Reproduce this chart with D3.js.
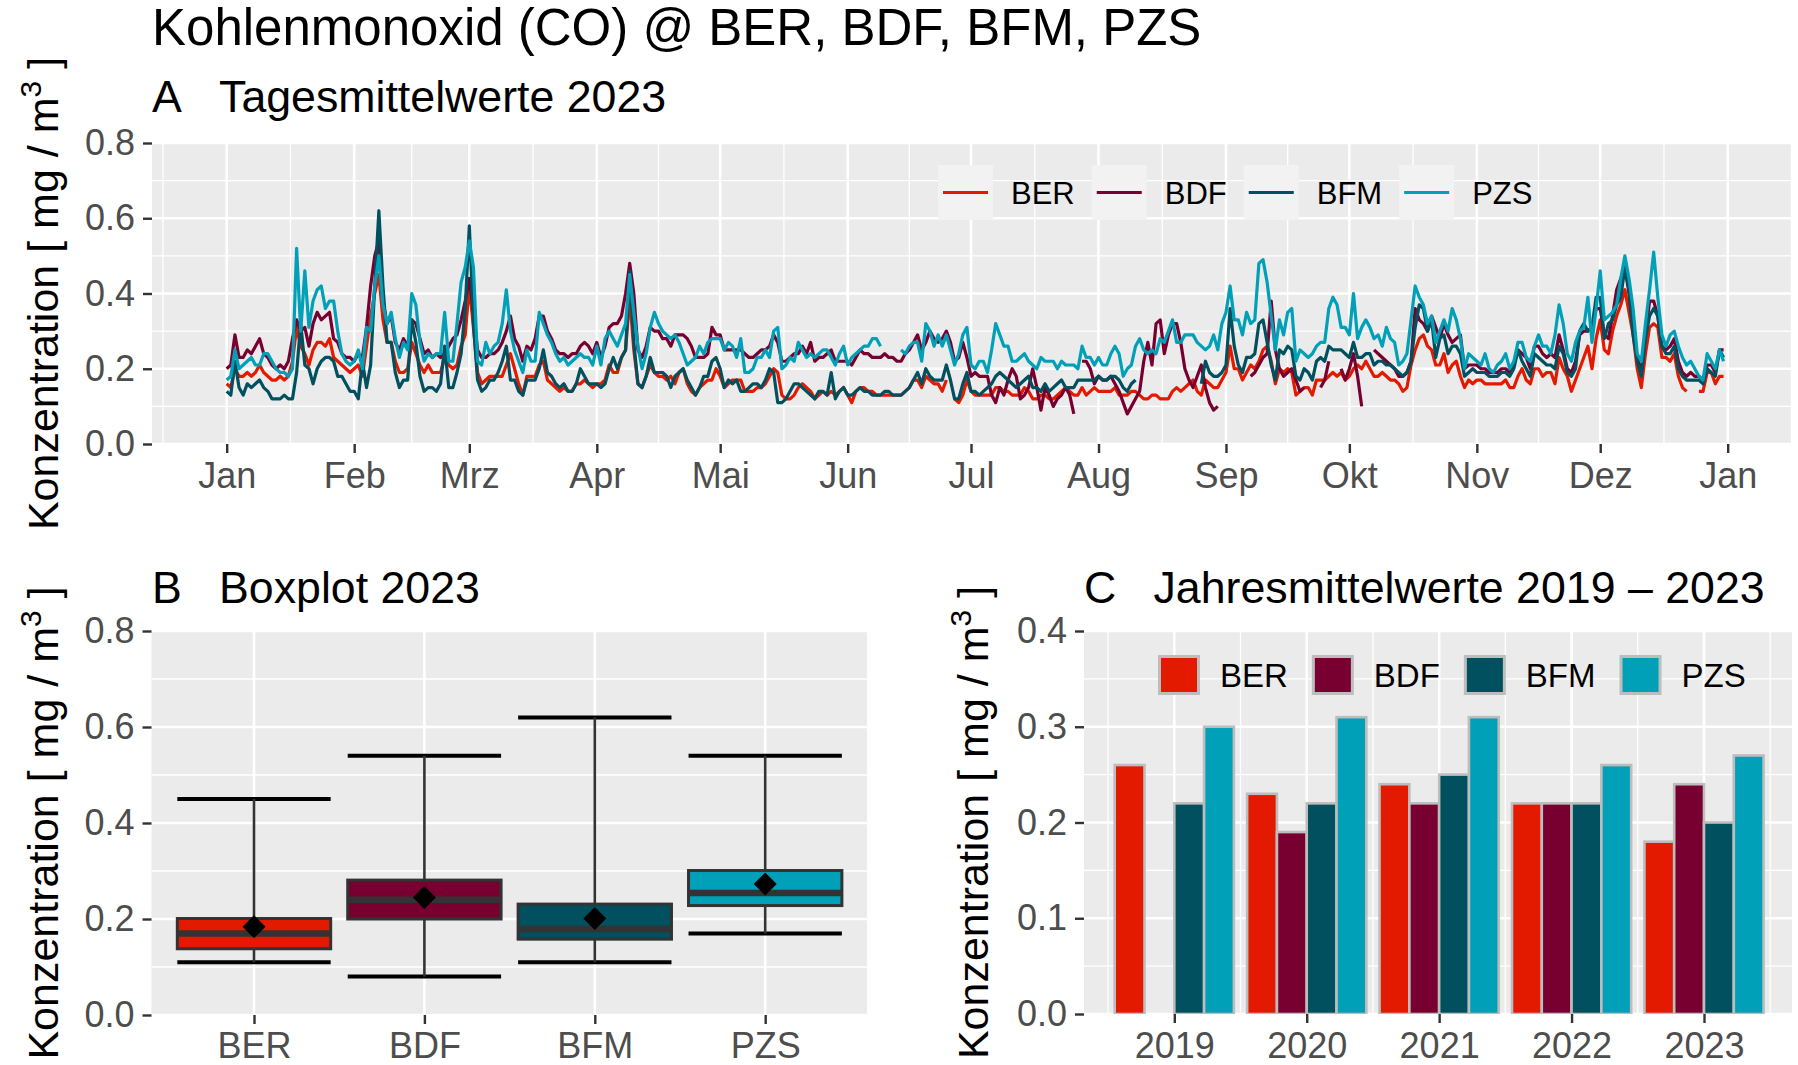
<!DOCTYPE html>
<html><head><meta charset="utf-8">
<script src="https://cdn.jsdelivr.net/npm/d3@7"></script>
<style>
body{margin:0;background:#fff;}
svg{display:block;}
text{font-family:"Liberation Sans",Arial,Helvetica,sans-serif;}
</style>
</head><body>
<svg id="chart" width="1798" height="1065"></svg>
<script>
// ---------------- DATA ----------------
const stations = ["BER","BDF","BFM","PZS"];
const stationColors = ["#E41A00","#780030","#00505F","#00A0B8"];
const monthLabels = ["Jan","Feb","Mrz","Apr","Mai","Jun","Jul","Aug","Sep","Okt","Nov","Dez","Jan"];
const yTicksTop = [0,0.2,0.4,0.6,0.8];
const yTicksBox = [0,0.2,0.4,0.6,0.8];
const yTicksBar = [0,0.1,0.2,0.3,0.4];

// daily means 2023 (index 0 = 1 Jan), null = missing
const dailyBER = [
.16,.15,.20,.18,.18,.19,.18,.19,.21,.19,
.18,.17,.17,.18,.17,.18,.22,.31,.26,.24,
.21,.25,.27,.27,.26,.28,.23,.22,.21,.20,
.19,.20,.21,.18,.26,.34,.40,.45,.33,.27,
.27,.22,.19,.19,.20,.27,.24,.21,.19,.21,
.19,.19,.19,.23,.21,.20,.21,.26,.29,.42,
.31,.19,.16,.17,.18,.18,.18,.18,.21,.24,
.20,.16,.13,.18,.18,.18,.21,.22,.17,.16,
.15,.14,.15,.14,.14,.16,.16,.17,.16,.15,
.16,.16,.17,.21,.19,.19,.23,.25,.39,.25,
.16,.15,.18,.21,.19,.18,.18,.17,.18,.16,
.19,.20,.16,.14,.13,.15,.16,.17,.17,.20,
.18,.15,.16,.17,.17,.17,.14,.14,.14,.15,
.15,.16,.18,.20,.19,.13,.12,.12,.13,.15,
.16,.15,.14,.12,.13,.14,.13,.14,.13,.14,
.15,.13,.11,.14,.15,.15,.14,.14,.13,.13,
.13,.13,.13,.13,.13,.14,.15,.17,.17,.15,
.18,.17,.16,.16,.14,.17,null,.12,.11,.13,
.17,.14,.13,.13,.13,.13,.13,.15,.15,.14,
.14,.13,.13,.13,.15,.14,.12,.12,.13,.13,
.12,.12,.13,.14,.15,.14,.13,.13,.15,.13,
.14,.15,.14,.14,.14,.14,.15,.13,.13,.13,
.14,.14,.13,.12,.12,.13,.13,.12,.12,.12,
.14,.15,.14,.15,.16,.17,.14,.13,.17,.16,
.15,.15,.17,.19,.26,.20,.20,.17,.19,.21,
.20,.22,.25,.26,.22,.16,.20,.19,.20,.19,
.13,.14,.15,.15,.13,.17,.17,.17,.18,.19,
.18,.19,.17,.18,.20,.21,.20,.22,.20,.18,
.18,.19,.18,.17,.17,.16,.14,.15,.21,.25,
.28,.29,.26,.25,.21,.21,.24,.19,.21,.22,
.18,.15,.17,.16,.17,.17,.16,.16,.16,.16,
.16,.17,.15,.15,.18,.20,.17,.16,.20,.20,
.18,.19,.19,.16,.23,.20,.18,.14,.17,.20,
.23,.26,.20,.28,.33,.25,.24,.30,.34,.37,
.41,.35,.29,.20,.15,.24,.31,.32,.31,.23,
.23,.22,.24,.18,.15,.14,null,null,.14,.14,
.19,.19,.16,.18,.18];

const dailyBDF = [
.20,.21,.29,.23,.23,.25,.24,.26,.28,.24,
.23,.21,.20,.21,.20,.22,.28,.33,.30,.31,
.26,.32,.35,.33,.34,.35,.28,.27,.24,.23,
.23,.22,.24,.23,.31,.42,.50,.54,.38,.32,
.34,.27,.25,.28,.26,.33,.32,.28,.24,.25,
.23,.24,.23,.24,.26,.28,.29,.33,.38,.44,
.35,.25,.23,.23,.24,.24,.25,.27,.30,.34,
.28,.26,.22,.26,.25,.28,.34,.34,.30,.28,
.25,.24,.24,.23,.24,.24,.26,.27,.26,.24,
.27,.23,.26,.31,.32,.32,.34,.40,.48,.40,
.25,.23,.26,.31,.30,.30,.28,.28,.26,.29,
.29,.29,.28,.26,.23,.23,.23,.24,.31,.29,
.29,.25,.25,.25,.25,.25,.24,.23,.23,.24,
.25,.25,.26,.29,.27,.22,.22,.23,.24,.24,
.26,.24,.27,.22,.23,.23,.24,.25,.22,.22,
.22,.22,.21,.23,.25,.24,.24,.23,.23,.23,
.24,.23,.23,.22,.22,.24,.25,.27,.29,.25,
.27,.30,.28,.27,.28,.30,.27,.22,.23,.27,
.23,.18,.19,.18,.18,.18,.13,.11,.15,.13,
.17,.20,.18,.12,.13,.15,.20,.15,.09,.15,
.13,.10,.12,.13,.15,.13,.08,null,.22,.22,
.20,.16,.18,.17,.17,.18,.16,.14,.11,.08,
.10,.12,.14,.22,.27,.21,.32,.33,.24,.29,
.32,.32,.27,.20,.17,.15,.18,.21,.15,.11,
.09,.10,null,null,null,null,null,null,null,.18,
.19,.21,.23,.24,.38,.25,.20,.18,.19,.20,
.17,.14,.15,null,null,null,.15,.17,.22,null,
null,.20,.17,.20,.24,.18,.10,null,null,.25,
.24,.23,.22,.21,.20,.18,.18,.19,.22,.36,
.33,.32,.30,.34,.31,.28,.32,.29,.27,.28,
.29,.20,.21,.21,.21,.20,.20,.19,.19,.19,
.20,.20,.19,.21,.25,.24,.23,.20,.26,.26,
.24,.23,.24,.23,.29,.25,.20,.19,.22,.29,
.30,.30,.31,.36,.36,.29,.28,.34,.41,.44,
.47,.40,.30,.23,.19,.29,.38,.38,.34,.26,
.25,.26,.28,.22,.19,.18,.19,.18,.18,.17,
.21,.21,.19,.25,.25];

const dailyBFM = [
.14,.13,.22,.15,.13,.16,.15,.16,.17,.15,
.14,.12,.12,.12,.13,.12,.12,.19,.32,.21,
.20,.16,.20,.22,.23,.23,.22,.18,.18,.16,
.14,.14,.12,.22,.15,.21,.42,.62,.42,.27,
.27,.19,.15,.17,.17,.33,.27,.18,.14,.15,
.15,.14,.16,.26,.15,.15,.19,.24,.36,.58,
.32,.17,.14,.15,.17,.17,.19,.22,.26,.17,
.17,.14,.13,.17,.17,.17,.20,.25,.19,.18,
.16,.15,.16,.14,.14,.16,.20,.18,.16,.16,
.16,.15,.16,.20,.23,.20,.23,.25,.46,.27,
.16,.15,.18,.23,.19,.19,.19,.18,.15,.18,
.19,.20,.17,.15,.13,.15,.18,.18,.22,.23,
.20,.15,.17,.16,.17,.14,.14,.15,.16,.16,
.15,.17,.20,.19,.11,.11,.12,.14,.16,.16,
.15,.14,.13,.12,.14,.14,.13,.19,.12,.14,
.15,.13,.13,.14,.15,.14,.14,.13,.13,.13,
.14,.14,.13,.13,.13,.14,.15,.17,.19,.16,
.20,.18,.17,.17,.17,.21,.17,.12,.12,.16,
.19,.14,.14,.13,.14,.15,.16,.18,.19,.18,
.17,.16,.15,.16,.17,.18,.15,.15,.14,.16,
.14,.15,.16,.17,.15,.15,.15,.17,.17,.17,
.17,.17,.18,.17,.17,.18,.18,.17,.15,.14,
.16,.17,null,null,null,null,null,null,null,null,
null,null,null,null,null,null,null,.16,.22,.19,
.18,.18,.19,.21,.36,.26,.21,.19,.23,.23,
.24,.32,.33,.27,.21,.17,.25,.24,.26,.25,
.18,.17,.20,.19,.17,.22,.23,.22,.26,.25,
.25,.25,.24,.23,.27,.23,.23,.24,.24,.21,
.22,.22,.21,.21,.20,.19,.18,.19,.22,.31,
.37,.36,.30,.33,.23,.28,.29,.24,.26,.26,
.24,.18,.19,.20,.19,.19,.19,.18,.18,.18,
.19,.19,.18,.20,.25,.22,.20,.18,.24,.23,
.22,.21,.21,.20,.26,.24,.19,.18,.20,.30,
.32,.30,.31,.39,.39,.28,.32,.33,.37,.39,
.47,.41,.29,.22,.18,.28,.34,.36,.34,.26,
.24,.24,.26,.20,.18,.17,.17,.17,.17,.16,
.20,.19,.18,.25,.23];

const dailyPZS = [
.17,.18,.25,.20,.21,.22,.23,.21,.21,.24,
.24,.22,.20,.19,.19,.18,.20,.52,.30,.46,
.31,.38,.41,.42,.36,.38,.38,.30,.24,.22,
.21,.22,.25,.20,.31,.30,.42,.50,.37,.32,
.35,.28,.23,.27,.25,.40,.37,.27,.22,.24,
.23,.24,.24,.35,.22,.22,.32,.43,.47,.54,
.47,.22,.21,.27,.24,.26,.27,.32,.41,.30,
.25,.22,.19,.25,.22,.22,.35,.32,.29,.27,
.24,.22,.23,.21,.22,.23,.24,.23,.23,.21,
.26,.21,.28,.30,.28,.26,.29,.32,.45,.35,
.26,.20,.24,.31,.35,.32,.30,.29,.28,.29,
.27,.24,.21,.22,.23,.26,.24,.27,.28,.28,
.28,.25,.27,.26,.23,.28,.19,.19,.20,.23,
.23,.25,.23,.30,.31,.20,.21,.23,.22,.27,
.25,.23,.24,.23,.24,.25,.25,.23,.21,.24,
.26,.21,.23,.24,.25,.26,.26,.28,.28,.26,
null,null,null,null,.25,.24,.26,.27,.27,.22,
.32,.30,.26,.29,.26,.29,.25,.21,.24,.29,
.31,.21,.20,.22,.22,.19,.25,.32,.29,.26,
.26,.22,.22,.23,.24,.22,.21,.20,.23,.22,
.22,.22,.20,.22,.21,.21,.21,.20,.26,.23,
.23,.21,.23,.21,.21,.24,.26,.24,.18,.20,
.21,.26,.28,.25,.24,.25,.24,.28,.27,.30,
.33,.27,.27,.29,.29,.29,.27,.26,.25,.26,
.29,.25,.32,.35,.42,.33,.33,.29,.35,.32,
.33,.48,.49,.43,.34,.25,.33,.29,.35,.36,
.22,.25,.24,.23,.24,.26,.27,.27,.36,.39,
.37,.31,.31,.29,.40,.28,.31,.33,.31,.28,
.29,.26,.31,.28,.27,.21,.22,.24,.33,.42,
.39,.37,.32,.34,.27,.30,.33,.30,.36,.33,
.28,.20,.24,.23,.22,.21,.24,.20,.19,.21,
.22,.24,.20,.22,.27,.27,.23,.22,.26,.29,
.26,.26,.24,.29,.37,.32,.24,.22,.27,.30,
.31,.39,.27,.36,.46,.33,.34,.35,.37,.44,
.50,.44,.36,.24,.22,.32,.41,.51,.39,.29,
.26,.29,.30,.26,.23,.21,.22,.20,.18,.17,
.24,.22,.20,.25,.22];

// boxplot statistics 2023 (per station, same order as stations)
const boxMin    = [0.11, 0.08, 0.11, 0.17];
const boxQ1     = [0.138, 0.200, 0.158, 0.228];
const boxMedian = [0.170, 0.240, 0.179, 0.254];
const boxQ3     = [0.201, 0.281, 0.231, 0.301];
const boxMax    = [0.45, 0.54, 0.62, 0.54];
const boxMean   = [0.184, 0.245, 0.201, 0.273];

// annual means
const years = [2019, 2020, 2021, 2022, 2023];
const annualBER = [0.26, 0.23, 0.24, 0.22, 0.18];
const annualBDF = [null, 0.19, 0.22, 0.22, 0.24];
const annualBFM = [0.22, 0.22, 0.25, 0.22, 0.20];
const annualPZS = [0.30, 0.31, 0.31, 0.26, 0.27];

// ---------------- DRAWING ----------------
const daily = [dailyBER, dailyBDF, dailyBFM, dailyPZS];
const annual = [annualBER, annualBDF, annualBFM, annualPZS];
const svg = d3.select("#chart");
const PANEL_BG = "#EBEBEB";
const TICK_COL = "#333333";
const LABEL_COL = "#4D4D4D";
const TICK_FS = 36;

function styleAxis(g){
  g.attr("font-family", null).attr("font-size", null);
  g.select(".domain").remove();
  g.selectAll(".tick line").attr("stroke", TICK_COL).attr("stroke-width", 2.4);
  g.selectAll(".tick text").attr("fill", LABEL_COL).style("font-size", TICK_FS + "px");
}
function hGrid(g, y, vals, x0, x1, w){
  g.selectAll(null).data(vals).enter().append("line")
    .attr("x1", x0).attr("x2", x1).attr("y1", d => y(d)).attr("y2", d => y(d))
    .attr("stroke", "#fff").attr("stroke-width", w);
}
function vGrid(g, xs, y0, y1, w){
  g.selectAll(null).data(xs).enter().append("line")
    .attr("x1", d => d).attr("x2", d => d).attr("y1", y0).attr("y2", y1)
    .attr("stroke", "#fff").attr("stroke-width", w);
}
function clip(id, p){
  svg.append("clipPath").attr("id", id).append("rect")
    .attr("x", p.l).attr("y", p.t).attr("width", p.r - p.l).attr("height", p.b - p.t);
}
function yTitle(x, yc){
  const t = svg.append("text").attr("transform", `translate(${x},${yc}) rotate(-90)`)
    .attr("text-anchor", "middle").style("font-size", "43px").attr("fill", "#000");
  t.append("tspan").text("Konzentration [ mg / m");
  t.append("tspan").attr("dy", -17).style("font-size", "30px").text("3");
  t.append("tspan").attr("dy", 17).text(" ]");
}
function title(x, y, s, fs){
  svg.append("text").attr("x", x).attr("y", y).style("font-size", fs + "px").attr("fill", "#000").text(s);
}
const NB = "\u00A0\u00A0\u00A0";

// ---- titles
title(152, 45, "Kohlenmonoxid (CO) @ BER, BDF, BFM, PZS", 51);
title(152, 112, "A" + NB + "Tagesmittelwerte 2023", 44.7);
title(152, 603, "B" + NB + "Boxplot 2023", 44.7);
title(1084, 603, "C" + NB + "Jahresmittelwerte 2019 \u2013 2023", 44.7);

// ================= Panel A =================
const pA = {l: 152, r: 1792, t: 143, b: 444};
clip("clipA", pA);
const xA = d3.scaleUtc().domain([new Date(Date.UTC(2023,0,1)), new Date(Date.UTC(2024,0,1))]).range([226.7, 1727.7]);
const yA = d3.scaleLinear().domain([0, 0.8]).range([pA.b, pA.t]);
const gA = svg.append("g");
gA.append("rect").attr("x", pA.l).attr("y", pA.t).attr("width", pA.r - pA.l).attr("height", pA.b - pA.t).attr("fill", PANEL_BG);
const gAg = gA.append("g").attr("clip-path", "url(#clipA)");
const monthTicks = d3.range(13).map(m => new Date(Date.UTC(2023, m, 1)));
const mPos = monthTicks.map(xA);
const minorXA = [mPos[0] - (mPos[1] - mPos[0]) / 2];
for (let i = 0; i < mPos.length - 1; i++) minorXA.push((mPos[i] + mPos[i+1]) / 2);
minorXA.push(mPos[12] + (mPos[12] - mPos[11]) / 2);
const minorYA = [0.1, 0.3, 0.5, 0.7];
hGrid(gAg, yA, minorYA, pA.l, pA.r, 1.3);
vGrid(gAg, minorXA, pA.t, pA.b, 1.3);
hGrid(gAg, yA, yTicksTop, pA.l, pA.r, 2.6);
vGrid(gAg, mPos, pA.t, pA.b, 2.6);

const lineGen = d3.line().defined(d => d.v != null).x(d => xA(d.date)).y(d => yA(d.v));
daily.forEach((arr, k) => {
  const data = arr.map((v, i) => ({date: new Date(Date.UTC(2023, 0, 1 + i)), v}));
  gAg.append("path").datum(data).attr("d", lineGen).attr("fill", "none")
    .attr("stroke", stationColors[k]).attr("stroke-width", 3.2).attr("stroke-linejoin", "round");
});

// legend A
let lx = 938;
const gLA = gA.append("g");
stations.forEach((s, i) => {
  gLA.append("rect").attr("x", lx).attr("y", 165).attr("width", 55).attr("height", 55).attr("fill", "#F2F2F2");
  gLA.append("line").attr("x1", lx + 5).attr("x2", lx + 50).attr("y1", 192.5).attr("y2", 192.5)
    .attr("stroke", stationColors[i]).attr("stroke-width", 3.2);
  const t = gLA.append("text").attr("x", lx + 73).attr("y", 192.5).attr("dy", "0.36em")
    .style("font-size", "31px").attr("fill", "#000").text(s);
  lx = lx + 73 + t.node().getComputedTextLength() + 17;
});

gA.append("g").attr("transform", `translate(${pA.l},0)`)
  .call(d3.axisLeft(yA).tickValues(yTicksTop).tickFormat(d3.format(".1f")).tickSize(9).tickPadding(8))
  .call(styleAxis);
gA.append("g").attr("transform", `translate(0,${pA.b})`)
  .call(d3.axisBottom(xA).tickValues(monthTicks).tickFormat((d, i) => monthLabels[i]).tickSize(9).tickPadding(9))
  .call(styleAxis);
yTitle(58, (pA.t + pA.b) / 2);

// ================= Panel B =================
const pB = {l: 151.5, r: 867, t: 631, b: 1015};
clip("clipB", pB);
const xB = d3.scalePoint().domain(stations).range([254, 765.2]);
const stepB = xB.step();
const yB = d3.scaleLinear().domain([0, 0.8]).range([pB.b, pB.t]);
const gB = svg.append("g");
gB.append("rect").attr("x", pB.l).attr("y", pB.t).attr("width", pB.r - pB.l).attr("height", pB.b - pB.t).attr("fill", PANEL_BG);
const gBg = gB.append("g").attr("clip-path", "url(#clipB)");
hGrid(gBg, yB, [0.1, 0.3, 0.5, 0.7], pB.l, pB.r, 1.3);
hGrid(gBg, yB, yTicksBox, pB.l, pB.r, 2.6);
vGrid(gBg, stations.map(xB), pB.t, pB.b, 2.6);
const halfW = stepB * 0.45;
stations.forEach((s, i) => {
  const cx = xB(s);
  [boxMin[i], boxMax[i]].forEach(v => {
    gBg.append("line").attr("x1", cx - halfW).attr("x2", cx + halfW).attr("y1", yB(v)).attr("y2", yB(v))
      .attr("stroke", "#000").attr("stroke-width", 4);
  });
  gBg.append("line").attr("x1", cx).attr("x2", cx).attr("y1", yB(boxMin[i])).attr("y2", yB(boxMax[i]))
    .attr("stroke", TICK_COL).attr("stroke-width", 2.6);
  gBg.append("rect").attr("x", cx - halfW).attr("width", 2 * halfW)
    .attr("y", yB(boxQ3[i])).attr("height", yB(boxQ1[i]) - yB(boxQ3[i]))
    .attr("fill", stationColors[i]).attr("stroke", TICK_COL).attr("stroke-width", 3);
  gBg.append("line").attr("x1", cx - halfW).attr("x2", cx + halfW).attr("y1", yB(boxMedian[i])).attr("y2", yB(boxMedian[i]))
    .attr("stroke", TICK_COL).attr("stroke-width", 6.5);
  const my = yB(boxMean[i]), r = 11.5;
  gBg.append("path").attr("d", `M${cx},${my - r}L${cx + r},${my}L${cx},${my + r}L${cx - r},${my}Z`).attr("fill", "#000");
});
gB.append("g").attr("transform", `translate(${pB.l},0)`)
  .call(d3.axisLeft(yB).tickValues(yTicksBox).tickFormat(d3.format(".1f")).tickSize(9).tickPadding(8))
  .call(styleAxis);
gB.append("g").attr("transform", `translate(0,${pB.b})`)
  .call(d3.axisBottom(xB).tickSize(9).tickPadding(8))
  .call(styleAxis);
yTitle(58, (pB.t + pB.b) / 2);

// ================= Panel C =================
const pC = {l: 1084, r: 1792, t: 631, b: 1014};
clip("clipC", pC);
const xC = d3.scaleLinear().domain([2019, 2023]).range([1174.3, 1704]);
const yC = d3.scaleLinear().domain([0, 0.4]).range([pC.b, pC.t]);
const gC = svg.append("g");
gC.append("rect").attr("x", pC.l).attr("y", pC.t).attr("width", pC.r - pC.l).attr("height", pC.b - pC.t).attr("fill", PANEL_BG);
const gCg = gC.append("g").attr("clip-path", "url(#clipC)");
hGrid(gCg, yC, [0.05, 0.15, 0.25, 0.35], pC.l, pC.r, 1.3);
vGrid(gCg, [2018.5, 2019.5, 2020.5, 2021.5, 2022.5, 2023.5].map(xC), pC.t, pC.b, 1.3);
hGrid(gCg, yC, yTicksBar, pC.l, pC.r, 2.6);
vGrid(gCg, years.map(xC), pC.t, pC.b, 2.6);
const barW = 0.225;
years.forEach((yr, j) => {
  annual.forEach((arr, i) => {
    const v = arr[j];
    if (v == null) return;
    const x0 = xC(yr - 0.45 + barW * i), x1 = xC(yr - 0.45 + barW * (i + 1));
    gCg.append("rect").attr("x", x0).attr("width", x1 - x0).attr("y", yC(v)).attr("height", yC(0) - yC(v))
      .attr("fill", stationColors[i]).attr("stroke", "#BDBDBD").attr("stroke-width", 2.6);
  });
});
// legend C
let cx = 1158;
const gLC = gC.append("g");
stations.forEach((s, i) => {
  gLC.append("rect").attr("x", cx + 1.5).attr("y", 656.5).attr("width", 39).attr("height", 37)
    .attr("fill", stationColors[i]).attr("stroke", "#BDBDBD").attr("stroke-width", 3);
  const t = gLC.append("text").attr("x", cx + 62).attr("y", 675).attr("dy", "0.36em")
    .style("font-size", "33px").attr("fill", "#000").text(s);
  cx = cx + 62 + t.node().getComputedTextLength() + 24;
});
gC.append("g").attr("transform", `translate(${pC.l},0)`)
  .call(d3.axisLeft(yC).tickValues(yTicksBar).tickFormat(d3.format(".1f")).tickSize(9).tickPadding(8))
  .call(styleAxis);
gC.append("g").attr("transform", `translate(0,${pC.b})`)
  .call(d3.axisBottom(xC).tickValues(years).tickFormat(d3.format("d")).tickSize(9).tickPadding(9))
  .call(styleAxis);
yTitle(988, (pC.t + pC.b) / 2);
</script>
</body></html>
